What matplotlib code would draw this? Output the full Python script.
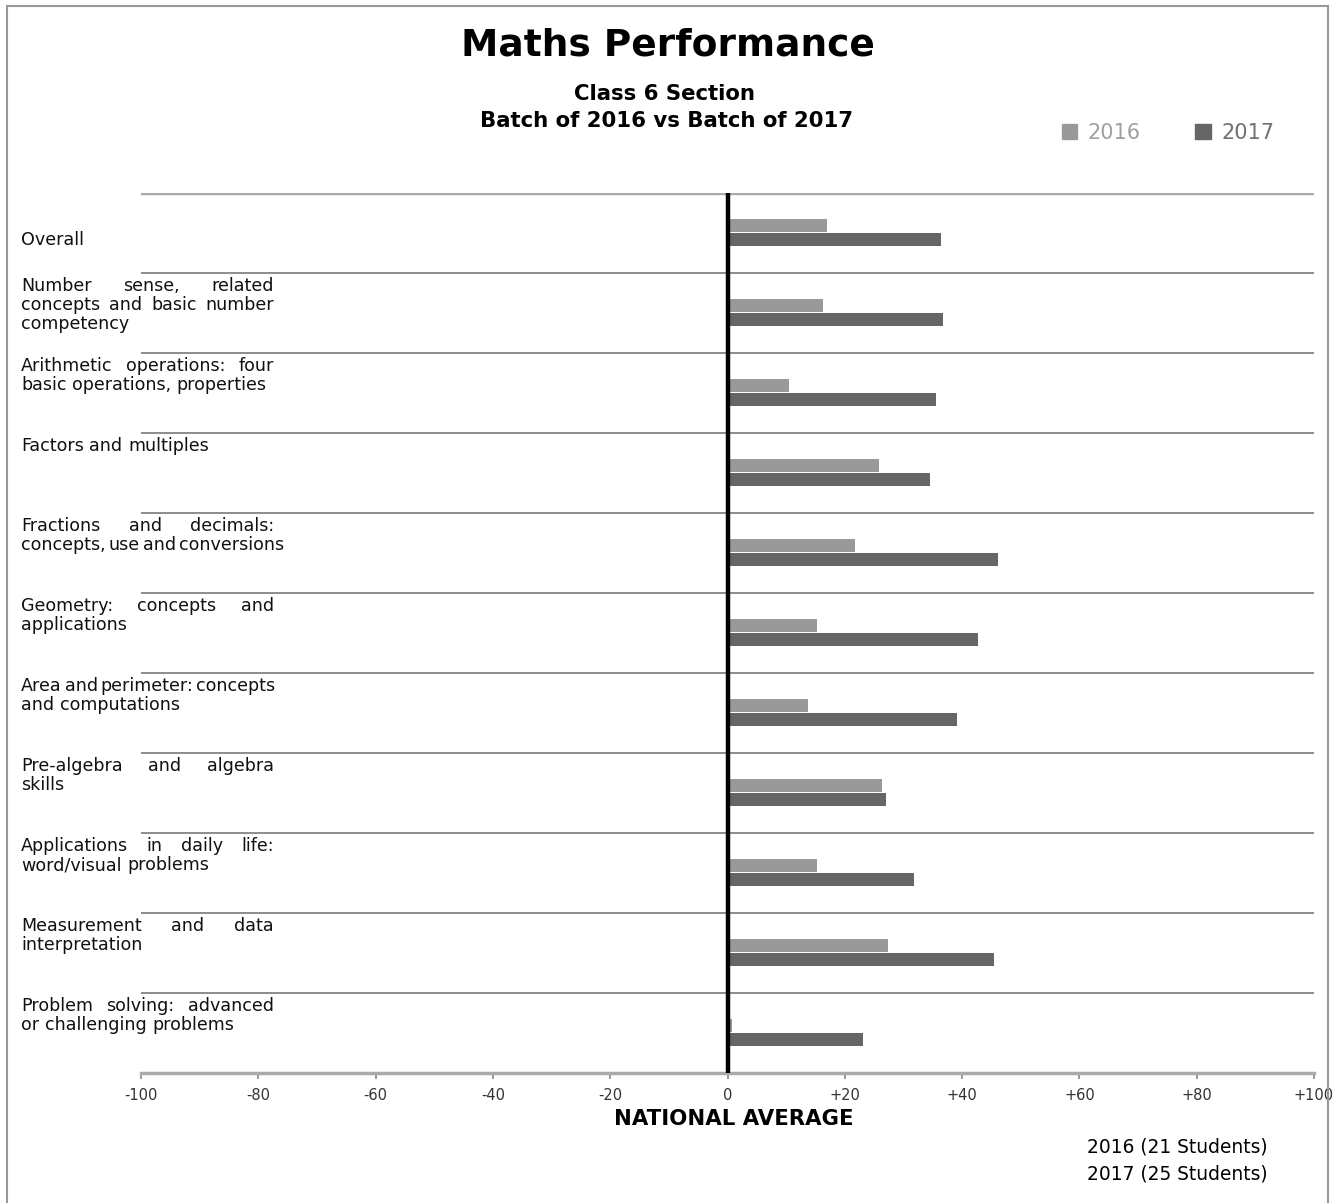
import matplotlib
matplotlib.use("Agg")
import matplotlib.pyplot as plt
import matplotlib.transforms as mtransforms
from matplotlib.patches import Patch, Rectangle
import numpy as np

# data
categories = [
    "Overall",
    "Number sense, related\nconcepts and basic number\ncompetency",
    "Arithmetic operations: four\nbasic operations, properties",
    "Factors and multiples",
    "Fractions and decimals:\nconcepts, use and conversions",
    "Geometry: concepts and\napplications",
    "Area and perimeter: concepts\nand computations",
    "Pre-algebra and algebra\nskills",
    "Applications in daily life:\nword/visual problems",
    "Measurement and data\ninterpretation",
    "Problem solving: advanced\nor challenging problems",
]
vals_2016 = [17.0, 16.3, 10.5, 25.8, 21.8, 15.3, 13.7, 26.3, 15.3, 27.3, 0.8]
vals_2017 = [36.4, 36.7, 35.6, 34.5, 46.1, 42.7, 39.1, 27.0, 31.8, 45.4, 23.1]
xticks = [-100, -80, -60, -40, -20, 0, 20, 40, 60, 80, 100]
xtick_labels = ["-100", "-80", "-60", "-40", "-20", "0", "+20", "+40", "+60", "+80", "+100"]

c2016 = "#999999"
c2017 = "#666666"

W, H = 1335, 1203
fig = plt.figure(figsize=(W / 100, H / 100), dpi=100)
fig.patch.set_facecolor("white")

ax = fig.add_axes([141 / W, 1 - 1073 / H, (1314 - 141) / W, (1073 - 193) / H])
n = len(categories)
rows = np.arange(n)

ax.barh(rows + 0.41, vals_2016, height=0.165, color=c2016, zorder=2)
ax.barh(rows + 0.58, vals_2017, height=0.165, color=c2017, zorder=2)

# row separators
for i in range(n):
    if i == 0:
        ax.axhline(i, color="#aaaaaa", lw=2.5, zorder=1)
    else:
        ax.axhline(i, color="#8c8c8c", lw=1.4, zorder=1)
ax.axvline(0, color="black", lw=3.2, zorder=3)

ax.set_xlim(-100, 100)
ax.set_ylim(n, 0)
ax.set_yticks([])
ax.set_xticks(xticks)
ax.set_xticklabels(xtick_labels, fontsize=10.5, color="#333333")
ax.tick_params(axis="x", direction="out", length=4, width=1.2, color="#888888", pad=7)
for s in ["top", "left", "right"]:
    ax.spines[s].set_visible(False)
ax.spines["bottom"].set_color("#aaaaaa")
ax.spines["bottom"].set_linewidth(2.5)

# titles
fig.text(668 / W, 1 - 46 / H, "Maths Performance", ha="center", va="center",
         fontsize=27, fontweight="bold")
fig.text(664 / W, 1 - 94 / H, "Class 6 Section", ha="center", va="center",
         fontsize=15.3, fontweight="bold")
fig.text(667 / W, 1 - 121 / H, "Batch of 2016 vs Batch of 2017", ha="center", va="center",
         fontsize=15.3, fontweight="bold")

fig.legend(handles=[Patch(color=c2016, label="2016"), Patch(color=c2017, label="2017")],
           loc="center", bbox_to_anchor=(1168 / W, 1 - 133 / H), ncol=2, frameon=False,
           fontsize=15, handlelength=0.75, handleheight=0.75, handletextpad=0.5,
           columnspacing=2.6, labelcolor=["#a0a0a0", "#707070"])

fig.text(734 / W, 1 - 1119 / H, "NATIONAL AVERAGE", ha="center", va="center",
         fontsize=15.3, fontweight="bold")
fig.text(1268 / W, 1 - 1147 / H, "2016 (21 Students)", ha="right", va="center", fontsize=13.4)
fig.text(1268 / W, 1 - 1174 / H, "2017 (25 Students)", ha="right", va="center", fontsize=13.4)

# category labels, justified like the original
trans = mtransforms.blended_transform_factory(fig.transFigure, ax.transData)
renderer = fig.canvas.get_renderer()
x0, x1 = 21, 274
lfs = 12.6
natural_gap = 0.318 * lfs * 100 / 72
for i, cat in enumerate(categories):
    lines = cat.split("\n")
    start = i + (47 / 80 if i == 0 else 13 / 80)
    for j, line in enumerate(lines):
        y = start + j * 19 / 80
        words = line.split(" ")
        arts = [ax.text(0, y, w, transform=trans, ha="left", va="center",
                        fontsize=lfs, color="#111111") for w in words]
        widths = [a.get_window_extent(renderer).width for a in arts]
        full = sum(widths) + natural_gap * (len(words) - 1)
        last = j == len(lines) - 1
        if len(words) > 1 and (not last or full > x1 - x0):
            gap = max(3.0, (x1 - x0 - sum(widths)) / (len(words) - 1))
        else:
            gap = natural_gap
        x = x0
        for a, wd in zip(arts, widths):
            a.set_x(x / W)
            x += wd + gap

# outer frame
fig.patches.append(Rectangle((7 / W, -0.01), (1328 - 7) / W, 1.01 - 6 / H,
                             transform=fig.transFigure, fill=False,
                             edgecolor="#999999", lw=1.5))

fig.savefig("out.png", dpi=100)
